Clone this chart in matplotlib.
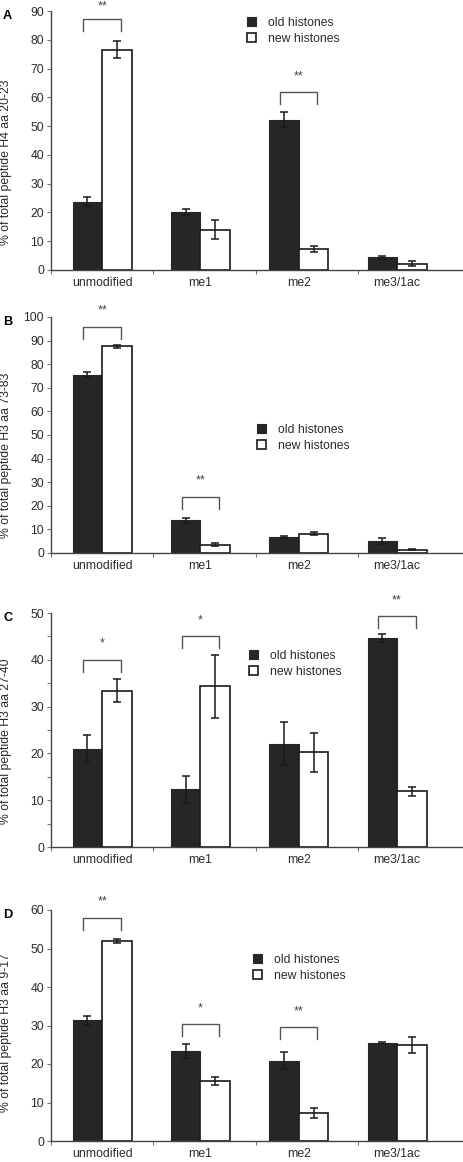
import matplotlib.pyplot as plt
from matplotlib.ticker import MultipleLocator, FixedLocator, NullFormatter

plt.rcParams['font.family'] = ['Liberation Sans', 'DejaVu Sans']
plt.rcParams['font.size'] = 8.8

# data
categories = ["unmodified", "me1", "me2", "me3/1ac"]
series = ["old histones", "new histones"]

old_a = [23.8, 20.1, 52.2, 4.4]
old_a_err = [1.5, 1.0, 2.6, 0.5]
new_a = [76.6, 14.0, 7.3, 2.2]
new_a_err = [3.1, 3.3, 1.1, 0.9]

old_b = [75.6, 13.9, 6.6, 5.2]
old_b_err = [1.2, 1.1, 0.4, 1.3]
new_b = [87.6, 3.6, 8.2, 1.3]
new_b_err = [0.6, 0.5, 0.7, 0.2]

old_c = [21.0, 12.3, 22.1, 44.7]
old_c_err = [2.9, 2.8, 4.6, 0.8]
new_c = [33.4, 34.3, 20.2, 11.9]
new_c_err = [2.5, 6.8, 4.1, 0.9]

old_d = [31.3, 23.4, 20.9, 25.4]
old_d_err = [1.2, 1.9, 2.1, 0.2]
new_d = [51.9, 15.6, 7.4, 24.9]
new_d_err = [0.6, 1.0, 1.3, 2.0]

# significance brackets: (category index, bracket height, label)
sig_a = [(0, 87.3, "**"), (2, 61.7, "**")]
sig_b = [(0, 95.8, "**"), (1, 23.9, "**")]
sig_c = [(0, 40.0, "*"), (1, 45.0, "*"), (3, 49.3, "**")]
sig_d = [(0, 58.0, "**"), (1, 30.3, "*"), (2, 29.5, "**")]

ylabels = ["% of total peptide H4 aa 20-23", "% of total peptide H3 aa 73-83",
           "% of total peptide H3 aa 27-40", "% of total peptide H3 aa 9-17"]
letters = ["A", "B", "C", "D"]
ymaxes = [90, 100, 50, 60]

panels = [
    (old_a, old_a_err, new_a, new_a_err, sig_a),
    (old_b, old_b_err, new_b, new_b_err, sig_b),
    (old_c, old_c_err, new_c, new_c_err, sig_c),
    (old_d, old_d_err, new_d, new_d_err, sig_d),
]

W, H = 463, 1162
fig = plt.figure(figsize=(W / 100, H / 100), dpi=100)

# layout in pixels: (axes top, axes bottom, legend x, legend y, ylabel centre y)
layout = [
    (11, 270, 247, 17, 162),
    (317, 553, 257, 424, 455),
    (613, 847, 249, 650, 741),
    (910, 1141, 253, 954, 1033),
]
left_px, right_px = 51, 462
grey = "#444444"
txt = "#2b2b2b"
bw = 0.3

for i, (old, old_err, new, new_err, sig) in enumerate(panels):
    top, bot, lx, ly, lyc = layout[i]
    ax = fig.add_axes([left_px / W, 1 - bot / H, (right_px - left_px) / W, (bot - top) / H])
    x = list(range(len(categories)))
    b1 = ax.bar([v - bw / 2 for v in x], old, bw, color="#262626", edgecolor="#262626",
                linewidth=0.8, label=series[0], zorder=2)
    b2 = ax.bar([v + bw / 2 for v in x], new, bw, color="white", edgecolor="#1a1a1a",
                linewidth=1.2, label=series[1], zorder=2)
    ax.errorbar([v - bw / 2 for v in x], old, yerr=old_err, fmt="none", ecolor="#1a1a1a",
                elinewidth=1.1, capsize=3.2, capthick=1.1, zorder=3)
    ax.errorbar([v + bw / 2 for v in x], new, yerr=new_err, fmt="none", ecolor="#1a1a1a",
                elinewidth=1.1, capsize=3.2, capthick=1.1, zorder=3)

    ymax = ymaxes[i]
    ax.set_ylim(0, ymax)
    ax.set_xlim(-0.52, 3.66)
    unit_px = (bot - top) / ymax
    leg = 12 / unit_px
    star = 16 / unit_px
    # keep star labels inside the figure's top edge
    star_cap = ymax + (top - 6) / unit_px
    for (ci, yb, lab) in sig:
        ax.plot([ci - 0.19, ci - 0.19, ci + 0.19, ci + 0.19], [yb - leg, yb, yb, yb - leg],
                color="#555555", lw=1.0, clip_on=False, zorder=4)
        ax.text(ci, min(yb + star, star_cap), lab, ha="center", va="center", fontsize=9,
                color="#444444", clip_on=False)

    ax.yaxis.set_major_locator(MultipleLocator(10))
    if ymax == 50:
        ax.yaxis.set_minor_locator(MultipleLocator(5))
    ax.tick_params(axis="y", which="both", direction="out", length=3, width=0.8,
                   color="#777777", pad=2, labelcolor=txt, labelsize=8.8)
    ax.set_xticks(x)
    ax.set_xticklabels(categories, color=txt)
    ax.tick_params(axis="x", which="major", length=0, pad=5, labelsize=8.8)
    ax.xaxis.set_minor_locator(FixedLocator([-0.52, 0.52, 1.56, 2.6]))
    ax.xaxis.set_minor_formatter(NullFormatter())
    ax.tick_params(axis="x", which="minor", direction="out", length=3, width=0.8, color="#777777")

    for s in ["top", "right"]:
        ax.spines[s].set_visible(False)
    for s in ["left", "bottom"]:
        ax.spines[s].set_color(grey)
        ax.spines[s].set_linewidth(1.0)

    ax.legend(handles=[b1, b2], labels=series, loc="upper left",
              bbox_to_anchor=(lx / W, 1 - ly / H), bbox_transform=fig.transFigure,
              frameon=False, borderpad=0, borderaxespad=0, handlelength=0.7,
              handleheight=0.7, handletextpad=1.0, labelspacing=0.3,
              fontsize=8.8, labelcolor=txt)

    fig.text(6 / W, 1 - lyc / H, ylabels[i], rotation=90, ha="center", va="center",
             color=txt, fontsize=8.8)
    fig.text(3 / W, 1 - (top - 1) / H, letters[i], ha="left", va="top",
             fontweight="bold", fontsize=9.2, color="black")

fig.savefig("out.png", dpi=100)
